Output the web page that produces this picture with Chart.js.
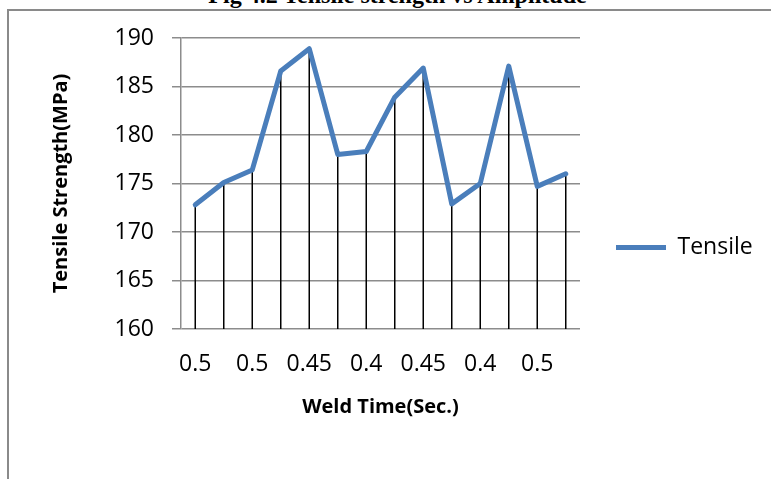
<!DOCTYPE html>
<html>
<head>
<meta charset="utf-8">
<script src="https://cdn.jsdelivr.net/npm/chart.js@4.4.1/dist/chart.umd.min.js"></script>
<style>
  html, body { margin: 0; padding: 0; background: #fff; overflow: hidden; width: 771px; height: 479px; }
  #fig-title {
    position: absolute; left: 0; width: 795px; top: -17px; text-align: center;
    font: bold 24px "Liberation Serif", serif; line-height: 24px; color: #000; white-space: nowrap;
  }
  #frame {
    position: absolute; left: 7px; top: 9px; width: 800px; height: 500px;
    border-left: 2px solid #8a8a8a; border-top: 2px solid #8a8a8a;
  }
  #wrap { position: absolute; left: 0; top: 0; width: 771px; height: 479px; }
</style>
</head>
<body>
<div id="fig-title">Fig 4.2 Tensile strength vs Amplitude</div>
<div id="frame"></div>
<div id="wrap"><canvas id="chart"></canvas></div>
<script>
// weld time labels; Excel only printed every other one
const weldTime = ["0.5", "", "0.5", "", "0.45", "", "0.4", "", "0.45", "", "0.4", "", "0.5", ""];
const tensile = [172.8, 175.1, 176.4, 186.6, 188.9, 178.0, 178.3, 183.9, 186.9, 172.9, 175.0, 187.1, 174.7, 176.0];
const yTicks = [160, 165, 170, 175, 180, 185, 190];

const FONT = "'Open Sans', 'DejaVu Sans', sans-serif";

// vertical drop lines from every point down to the x axis
const dropLines = {
  id: "dropLines",
  beforeDatasetsDraw(chart) {
    const meta = chart.getDatasetMeta(0);
    const yBase = chart.scales.y.getPixelForValue(yTicks[0]);
    const ctx = chart.ctx;
    ctx.save();
    ctx.strokeStyle = "#000";
    ctx.lineWidth = 1.5;
    meta.data.forEach((pt) => {
      ctx.beginPath();
      ctx.moveTo(pt.x, pt.y);
      ctx.lineTo(pt.x, yBase);
      ctx.stroke();
    });
    ctx.restore();
  },
};

new Chart(document.getElementById("chart"), {
  type: "line",
  data: {
    labels: weldTime,
    datasets: [
      {
        label: "Tensile",
        data: tensile,
        borderColor: "#4A7EBB",
        backgroundColor: "#4A7EBB",
        borderWidth: 5,
        borderCapStyle: "round",
        borderJoinStyle: "round",
        pointRadius: 0,
        tension: 0,
      },
    ],
  },
  options: {
    responsive: true,
    maintainAspectRatio: false,
    animation: false,
    layout: { padding: { left: 49, top: 38, bottom: 60, right: 14 } },
    plugins: {
      legend: {
        position: "right",
        // empty title only to nudge the entry down to where Excel put it
        title: { display: true, text: " ", font: { size: 10 }, padding: { top: 13, bottom: 13 } },
        labels: {
          usePointStyle: true,
          pointStyle: "line",
          pointStyleWidth: 50,
          padding: 36,
          color: "#000",
          font: { family: FONT, size: 23 },
        },
      },
      tooltip: { enabled: false },
    },
    scales: {
      x: {
        offset: true,
        afterFit: (s) => { s.height = 90; },
        grid: { display: false, drawTicks: false },
        border: { display: false },
        ticks: {
          autoSkip: false,
          maxRotation: 0,
          padding: 22,
          color: "#000",
          font: { family: FONT, size: 23 },
        },
        title: {
          display: true,
          text: "Weld Time(Sec.)",
          color: "#000",
          font: { family: FONT, size: 20, weight: "bold" },
          padding: { top: 0, bottom: 0 },
        },
      },
      y: {
        min: yTicks[0],
        max: yTicks[yTicks.length - 1],
        afterFit: (s) => { s.width = 132; },
        afterBuildTicks: (s) => { s.ticks = yTicks.map((v) => ({ value: v })); },
        grid: { color: "#8c8c8c", lineWidth: 1.5, tickLength: 9, tickColor: "#8c8c8c" },
        border: { display: true, color: "#8c8c8c", width: 1.5 },
        ticks: {
          padding: 18,
          color: "#000",
          font: { family: FONT, size: 23 },
        },
        title: {
          display: true,
          text: "Tensile Strength(MPa)",
          color: "#000",
          font: { family: FONT, size: 20, weight: "bold" },
          padding: { top: 0, bottom: 0 },
        },
      },
    },
  },
  plugins: [dropLines],
});
</script>
</body>
</html>
